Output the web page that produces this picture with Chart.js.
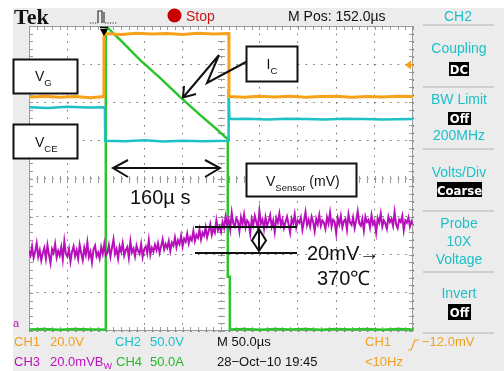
<!DOCTYPE html>
<html><head><meta charset="utf-8">
<script src="https://cdn.jsdelivr.net/npm/chart.js@4"></script>
<style>
html,body{margin:0;padding:0;background:#fff;}
#wrap{position:relative;width:504px;height:371px;overflow:hidden;}
#c{position:absolute;left:0;top:0;}
#ov{position:absolute;left:0;top:0;font-family:"Liberation Sans",Arial,sans-serif;}
</style></head><body>
<div id="wrap">
<canvas id="c" width="504" height="371"></canvas>
<svg id="ov" width="504" height="371" xmlns="http://www.w3.org/2000/svg">
  <!-- header -->
  <text x="14" y="24" font-family="Liberation Serif,serif" font-weight="bold" font-size="22" fill="#111">Tek</text>
  <path d="M90,23 H98" stroke="#333" stroke-width="1.2" stroke-dasharray="1.2,1.3" fill="none"/>
  <path d="M98,23 V11 H102 V23 M104,23 V12" stroke="#333" stroke-width="1.2" fill="none"/>
  <path d="M105,23 H117" stroke="#333" stroke-width="1.2" stroke-dasharray="1.2,1.3" fill="none"/>
  <circle cx="174.5" cy="15.5" r="7" fill="#c80000"/>
  <text x="186" y="20.5" font-size="14" fill="#c81818">Stop</text>
  <text x="288" y="20.5" font-size="14" fill="#111">M Pos: 152.0µs</text>
  <text x="458" y="20.5" font-size="14" fill="#1ec0c8" text-anchor="middle">CH2</text>

  <!-- right panel -->
  <g stroke="#c4c4c4" stroke-width="1.5">
    <line x1="423" y1="25" x2="494" y2="25"/>
    <line x1="423" y1="87" x2="494" y2="87"/>
    <line x1="423" y1="149" x2="494" y2="149"/>
    <line x1="423" y1="211" x2="494" y2="211"/>
    <line x1="423" y1="272" x2="494" y2="272"/>
    <line x1="423" y1="333" x2="494" y2="333"/>
  </g>
  <g font-size="14" fill="#1ec0c8" text-anchor="middle">
    <text x="459" y="52.5">Coupling</text>
    <text x="459" y="103.5">BW Limit</text>
    <text x="459" y="140">200MHz</text>
    <text x="459" y="177">Volts/Div</text>
    <text x="459" y="228">Probe</text>
    <text x="459" y="245.5">10X</text>
    <text x="459" y="264">Voltage</text>
    <text x="459" y="298">Invert</text>
  </g>
  <rect x="449" y="62" width="20" height="14" fill="#000"/>
  <rect x="448" y="112" width="23" height="13" fill="#000"/>
  <rect x="437" y="182" width="45" height="15" fill="#000"/>
  <rect x="448" y="304" width="23" height="16" fill="#000"/>
  <g font-size="13" fill="#fff" text-anchor="middle" font-weight="bold" font-family="DejaVu Sans Condensed,Liberation Sans,sans-serif">
    <text x="459" y="73.5">DC</text>
    <text x="459.5" y="123">Off</text>
    <text x="459.5" y="194.5">Coarse</text>
    <text x="459.5" y="317">Off</text>
  </g>

  <!-- bottom status -->
  <g font-size="13">
    <text x="14" y="346" fill="#f2a01c">CH1</text>
    <text x="50" y="346" fill="#f2a01c">20.0V</text>
    <text x="115" y="346" fill="#1ec0c8">CH2</text>
    <text x="150" y="346" fill="#1ec0c8">50.0V</text>
    <text x="217" y="346" fill="#111">M 50.0µs</text>
    <text x="365" y="346" fill="#f2a01c">CH1</text>
    <text x="422" y="346" fill="#f2a01c">−12.0mV</text>
    <text x="14" y="366" fill="#c010c0">CH3</text>
    <text x="50" y="366" fill="#c010c0">20.0mVB<tspan font-size="9" dy="3">W</tspan></text>
    <text x="116" y="366" fill="#28b828">CH4</text>
    <text x="150" y="366" fill="#28b828">50.0A</text>
    <text x="217" y="366" fill="#111">28−Oct−10 19:45</text>
    <text x="365" y="366" fill="#f2a01c">&lt;10Hz</text>
  </g>
  <path d="M408,350 H411 L415,340 H419" stroke="#f2a01c" stroke-width="1.2" fill="none"/>
  <text x="13" y="327" font-size="11" fill="#b511b8">a</text>

  <!-- markers -->
  <path d="M100,27.5 H108" stroke="#000" stroke-width="1.5"/>
  <path d="M100,29 L108,29 L104,36 Z" fill="#000"/>
  <path d="M405,65 L411,60.5 L411,69.5 Z M411,64 H413 V66 H411 Z" fill="#f7a01a"/>

  <!-- annotations -->
  <g stroke="#111" stroke-width="2" fill="#fff">
    <rect x="13.5" y="59.5" width="64" height="34"/>
    <rect x="13.5" y="124.5" width="64" height="34"/>
    <rect x="246.5" y="46.5" width="51" height="35"/>
    <rect x="246.5" y="163.5" width="110" height="33"/>
  </g>
  <g font-size="14" fill="#111">
    <text x="35" y="81">V<tspan font-size="9.5" dy="5">G</tspan></text>
    <text x="35" y="147">V<tspan font-size="9.5" dy="5">CE</tspan></text>
    <text x="266.5" y="69">I<tspan font-size="9.5" dy="5">C</tspan></text>
    <text x="266" y="186">V<tspan font-size="9.5" dy="5">Sensor</tspan><tspan dy="-5"> (mV)</tspan></text>
  </g>
  <g stroke="#111" stroke-width="2" fill="none" stroke-linejoin="miter">
    <path d="M246,62 L207,83 L219,55 L183,97.5"/>
    <path d="M184,86 L183,97.5 L196,94"/>
    <path d="M113,168 H220 M128,160 L113,168 L128,177 M205,160 L220,168 L205,177"/>
    <path d="M195,227 H297 M195,253 H297"/>
    <path d="M259,229 L266,240.5 L259,251 L252,240.5 Z M259,229 V251"/>
  </g>
  <g font-size="20" fill="#111">
    <text x="130" y="203.5">160µ s</text>
    <text x="307" y="260">20mV→</text>
    <text x="317" y="285">370℃</text>
  </g>
</svg>
</div>
<script>
// Time axis in µs (50 µs/div, 10 div), vertical axis in screen divisions (8 div)
// CH1 (V_G, orange)
const ch1T = [0, 20, 40, 60, 80, 97.5, 97.7, 120, 140, 160, 180, 200, 220, 240, 260.2, 260.4, 280, 300, 320, 340, 360, 380, 400, 420, 440, 460, 480, 500];
const ch1V = [6.13, 6.16, 6.13, 6.15, 6.12, 6.15, 7.80, 7.78, 7.81, 7.79, 7.80, 7.78, 7.81, 7.79, 7.80, 6.15, 6.13, 6.16, 6.14, 6.16, 6.13, 6.15, 6.16, 6.13, 6.15, 6.14, 6.16, 6.15];
// CH2 (V_CE, cyan)
const ch2T = [0, 25, 50, 75, 98.8, 99.2, 125, 150, 175, 200, 225, 259.6, 259.9, 261, 285, 310, 335, 360, 385, 410, 435, 460, 500];
const ch2V = [5.87, 5.85, 5.88, 5.86, 5.87, 4.99, 4.98, 5.00, 4.97, 4.99, 4.98, 4.99, 6.33, 5.56, 5.57, 5.55, 5.57, 5.56, 5.55, 5.57, 5.56, 5.55, 5.56];
// CH3 (V_Sensor, magenta), one sample every 2 µs
const ch3V = [
  2.10, 1.98, 2.22, 1.92, 2.08, 2.30, 1.95, 2.12, 1.85, 2.05,
  2.18, 1.90, 2.25, 2.00, 1.78, 2.15, 2.05, 2.28, 1.93, 2.10,
  1.98, 2.20, 1.88, 2.35, 2.02, 1.95, 2.15, 1.82, 2.08, 2.22,
  1.96, 2.12, 1.90, 2.26, 2.04, 1.86, 2.18, 2.00, 2.32, 1.94,
  2.08, 1.80, 2.14, 2.24, 1.96, 2.06, 1.90, 2.20, 2.02, 2.28,
  1.98,
  2.05, 2.25, 1.95, 2.18, 2.40, 2.02, 2.15, 1.90, 2.22, 2.08,
  2.30, 1.98, 2.12, 2.20, 1.92, 2.35, 2.06, 2.16, 1.96, 2.24,
  2.10, 2.02, 2.28, 1.94, 2.14, 2.22, 2.04, 2.38, 2.00, 2.18,
  2.08, 2.26, 2.12, 2.30, 2.05, 2.22, 2.40, 2.14, 2.28, 2.18,
  2.36, 2.10, 2.32, 2.24, 2.45, 2.20, 2.38, 2.28, 2.50, 2.22,
  2.42, 2.34, 2.55, 2.30, 2.46, 2.38, 2.62, 2.36, 2.52, 2.44,
  2.66, 2.40, 2.58, 2.50, 2.72, 2.46, 2.62, 2.80, 2.52, 2.68,
  2.58, 2.90, 2.64, 2.74, 2.60,
  2.85, 2.70, 3.00, 2.78, 2.92, 2.66, 3.10, 2.82, 2.74, 2.96,
  2.88, 2.62, 2.98, 2.80, 3.05, 2.72, 2.90, 2.84, 2.55, 2.94,
  2.78, 3.02, 2.86, 2.70, 3.15, 2.82, 2.92, 2.68, 2.98, 2.76,
  2.88, 3.04, 2.74, 2.90, 2.60, 2.96, 2.84, 3.08, 2.78, 2.92,
  2.70, 2.86, 3.00, 2.80, 2.58, 2.94, 2.82, 3.06, 2.72, 2.90,
  2.84, 2.98, 2.66, 2.88, 3.12, 2.78, 2.92, 2.74, 3.00, 2.86,
  2.62, 2.94, 2.80, 3.04, 2.76, 2.90, 2.84, 2.68, 2.98, 2.82,
  3.10, 2.74, 2.92, 2.86, 2.56, 2.96, 2.80, 3.02, 2.72, 2.88,
  2.94, 2.66, 3.06, 2.84, 2.78, 2.98, 2.70, 2.90, 3.14, 2.82,
  2.76, 2.94, 2.64, 3.00, 2.86, 2.92, 2.72, 3.04, 2.80, 2.88,
  2.58, 2.96, 2.84, 3.08, 2.74, 2.90, 2.82, 2.68, 3.00, 2.86,
  2.94, 2.76, 3.12, 2.80, 2.70, 2.92, 2.86, 3.02, 2.64, 2.90,
  2.84, 2.98, 2.74, 2.88, 2.80
];
const ch3Step = 2;
// CH4 (I_C, green)
const ch4T = [0, 20, 40, 60, 80, 99.6, 100, 102.5, 118.5, 144.5, 170.6, 196.6, 222.7, 242.2, 256.5, 258.8, 258.8, 261.5, 261.5, 280, 300, 320, 340, 360, 380, 400, 420, 440, 460, 480, 500];
const ch4V = [0.04, 0.05, 0.03, 0.05, 0.04, 0.04, 7.95, 7.95, 7.64, 7.11, 6.64, 6.14, 5.67, 5.33, 5.07, 5.05, 1.42, 1.42, 0.04, 0.05, 0.03, 0.05, 0.04, 0.05, 0.03, 0.05, 0.04, 0.05, 0.03, 0.05, 0.04];

const xMin = 0, xMax = 500, xDiv = 50;
const yMin = 0, yMax = 8, yDiv = 1;

const pts = (T, V) => V.map((v, i) => ({x: T[i], y: v}));
const ch3T = ch3V.map((_, i) => i * ch3Step);

const scopeFrame = {
  id: 'scopeFrame',
  beforeDraw(chart) {
    const {ctx, chartArea: a, width, height} = chart;
    ctx.save();
    ctx.fillStyle = '#ececec';
    ctx.fillRect(0, 0, width, height);
    ctx.fillStyle = '#ffffff';
    ctx.fillRect(0, 0, width, 8);
    ctx.fillRect(0, 0, 13, height);
    ctx.fillRect(a.left, a.top, a.right - a.left, a.bottom - a.top);
    ctx.restore();
  },
  beforeDatasetsDraw(chart) {
    const {ctx, chartArea: a, scales} = chart;
    const xs = scales.x, ys = scales.y;
    ctx.save();
    ctx.strokeStyle = '#9a9a9a';
    ctx.lineWidth = 1;
    ctx.strokeRect(a.left + 0.5, a.top + 0.5, a.right - a.left - 1, a.bottom - a.top - 1);
    const cx = Math.round(xs.getPixelForValue((xMin + xMax) / 2));
    const cy = Math.round(ys.getPixelForValue((yMin + yMax) / 2));
    ctx.beginPath();
    for (let k = 0; k <= (xMax - xMin) / xDiv * 5; k++) {
      const px = Math.round(xs.getPixelForValue(xMin + k * xDiv / 5)) + 0.5;
      ctx.moveTo(px, a.top); ctx.lineTo(px, a.top + 4);
      ctx.moveTo(px, a.bottom); ctx.lineTo(px, a.bottom - 4);
      ctx.moveTo(px, cy - 3); ctx.lineTo(px, cy + 4);
    }
    for (let k = 0; k <= (yMax - yMin) / yDiv * 5; k++) {
      const py = Math.round(ys.getPixelForValue(yMin + k * yDiv / 5)) + 0.5;
      ctx.moveTo(a.left, py); ctx.lineTo(a.left + 4, py);
      ctx.moveTo(a.right, py); ctx.lineTo(a.right - 4, py);
      ctx.moveTo(cx - 3, py); ctx.lineTo(cx + 4, py);
    }
    ctx.stroke();
    ctx.restore();
  }
};

new Chart(document.getElementById('c'), {
  type: 'line',
  data: {
    datasets: [
      {label: 'CH1 V_G', data: pts(ch1T, ch1V), borderColor: '#f7a21a', borderWidth: 3},
      {label: 'CH2 V_CE', data: pts(ch2T, ch2V), borderColor: '#1fc0c6', borderWidth: 2.5},
      {label: 'CH3 V_Sensor', data: pts(ch3T, ch3V), borderColor: '#b80fbc', borderWidth: 2},
      {label: 'CH4 I_C', data: pts(ch4T, ch4V), borderColor: '#2cc42c', borderWidth: 2.5}
    ]
  },
  options: {
    responsive: false,
    animation: false,
    devicePixelRatio: 1,
    layout: {padding: {left: 29, top: 26, right: 91, bottom: 40}},
    elements: {point: {radius: 0}, line: {tension: 0, borderJoinStyle: 'miter', borderCapStyle: 'butt'}},
    plugins: {legend: {display: false}, tooltip: {enabled: false}, title: {display: false}},
    scales: {
      x: {
        type: 'linear', min: xMin, max: xMax,
        ticks: {display: false, stepSize: xDiv},
        grid: {color: '#777777', lineWidth: 1, drawTicks: false},
        border: {display: false, dash: [1.6, 6.02]}
      },
      y: {
        type: 'linear', min: yMin, max: yMax,
        ticks: {display: false, stepSize: yDiv},
        grid: {color: '#777777', lineWidth: 1, drawTicks: false},
        border: {display: false, dash: [1.6, 6.08]}
      }
    }
  },
  plugins: [scopeFrame]
});
</script>
</body></html>
